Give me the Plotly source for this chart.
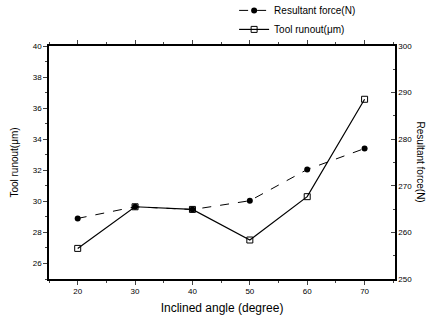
import plotly.graph_objects as go

angles = [20, 30, 40, 50, 60, 70]
tool_runout = [26.97, 29.65, 29.48, 27.51, 30.3, 36.57]
resultant_force = [263.0, 265.5, 264.9, 266.8, 273.5, 278.0]

left_ticks = [26, 28, 30, 32, 34, 36, 38, 40]
right_ticks = [250, 260, 270, 280, 290, 300]
x_ticks = [20, 30, 40, 50, 60, 70]

fig = go.Figure()
fig.add_trace(go.Scatter(
    x=angles, y=resultant_force, name="Resultant force(N)", yaxis="y2",
    mode="lines+markers",
    line=dict(color="black", width=1, dash="dash"),
    marker=dict(symbol="circle", size=6, color="black"),
))
fig.add_trace(go.Scatter(
    x=angles, y=tool_runout, name="Tool runout(\u03bcm)", yaxis="y",
    mode="lines+markers",
    line=dict(color="black", width=1.2),
    marker=dict(symbol="square-open", size=6, color="black", line=dict(width=1)),
))

tickfont = dict(family="Liberation Sans, Arial", size=8, color="black")
fig.update_layout(
    width=433, height=317,
    margin=dict(l=49, r=38, t=46, b=38, autoexpand=False),
    paper_bgcolor="white", plot_bgcolor="white",
    font=dict(family="Liberation Sans, Arial", color="black"),
    xaxis=dict(range=[15, 75.3], tickvals=x_ticks, ticks="outside", ticklen=4,
               showline=True, linecolor="black", linewidth=1.5, mirror="ticks",
               showgrid=False, zeroline=False, tickfont=tickfont, automargin=False,
               minor=dict(dtick=5, ticks="outside", ticklen=2, tick0=15),
               title=dict(text="Inclined angle (degree)", font=dict(size=12), standoff=8)),
    yaxis=dict(range=[25, 40], tickvals=left_ticks, ticks="outside", ticklen=4,
               showline=True, linecolor="black", linewidth=1.5, automargin=False,
               showgrid=False, zeroline=False, tickfont=tickfont,
               minor=dict(dtick=1, ticks="outside", ticklen=2),
               title=dict(text="Tool runout(\u03bcm)", font=dict(size=10), standoff=12)),
    yaxis2=dict(range=[250, 300], tickvals=right_ticks, overlaying="y", side="right",
                ticks="inside", ticklen=4, showline=True, linecolor="black", linewidth=1.5,
                showgrid=False, zeroline=False, tickfont=tickfont, automargin=False,
                minor=dict(dtick=5, ticks="inside", ticklen=2)),
    legend=dict(x=0.535, y=1.215, xanchor="left", yanchor="top",
                font=dict(size=10), bgcolor="rgba(0,0,0,0)",
                tracegroupgap=0, itemwidth=30),
    showlegend=True,
)
fig.add_annotation(text="Resultant force(N)", textangle=90, xref="paper", yref="paper",
                   x=1.075, y=0.5, showarrow=False, font=dict(size=10),
                   xanchor="center", yanchor="middle")

fig.write_html("out.html", config={"displayModeBar": False},
               post_script="document.body.style.margin='0';document.body.style.overflow='hidden';")
